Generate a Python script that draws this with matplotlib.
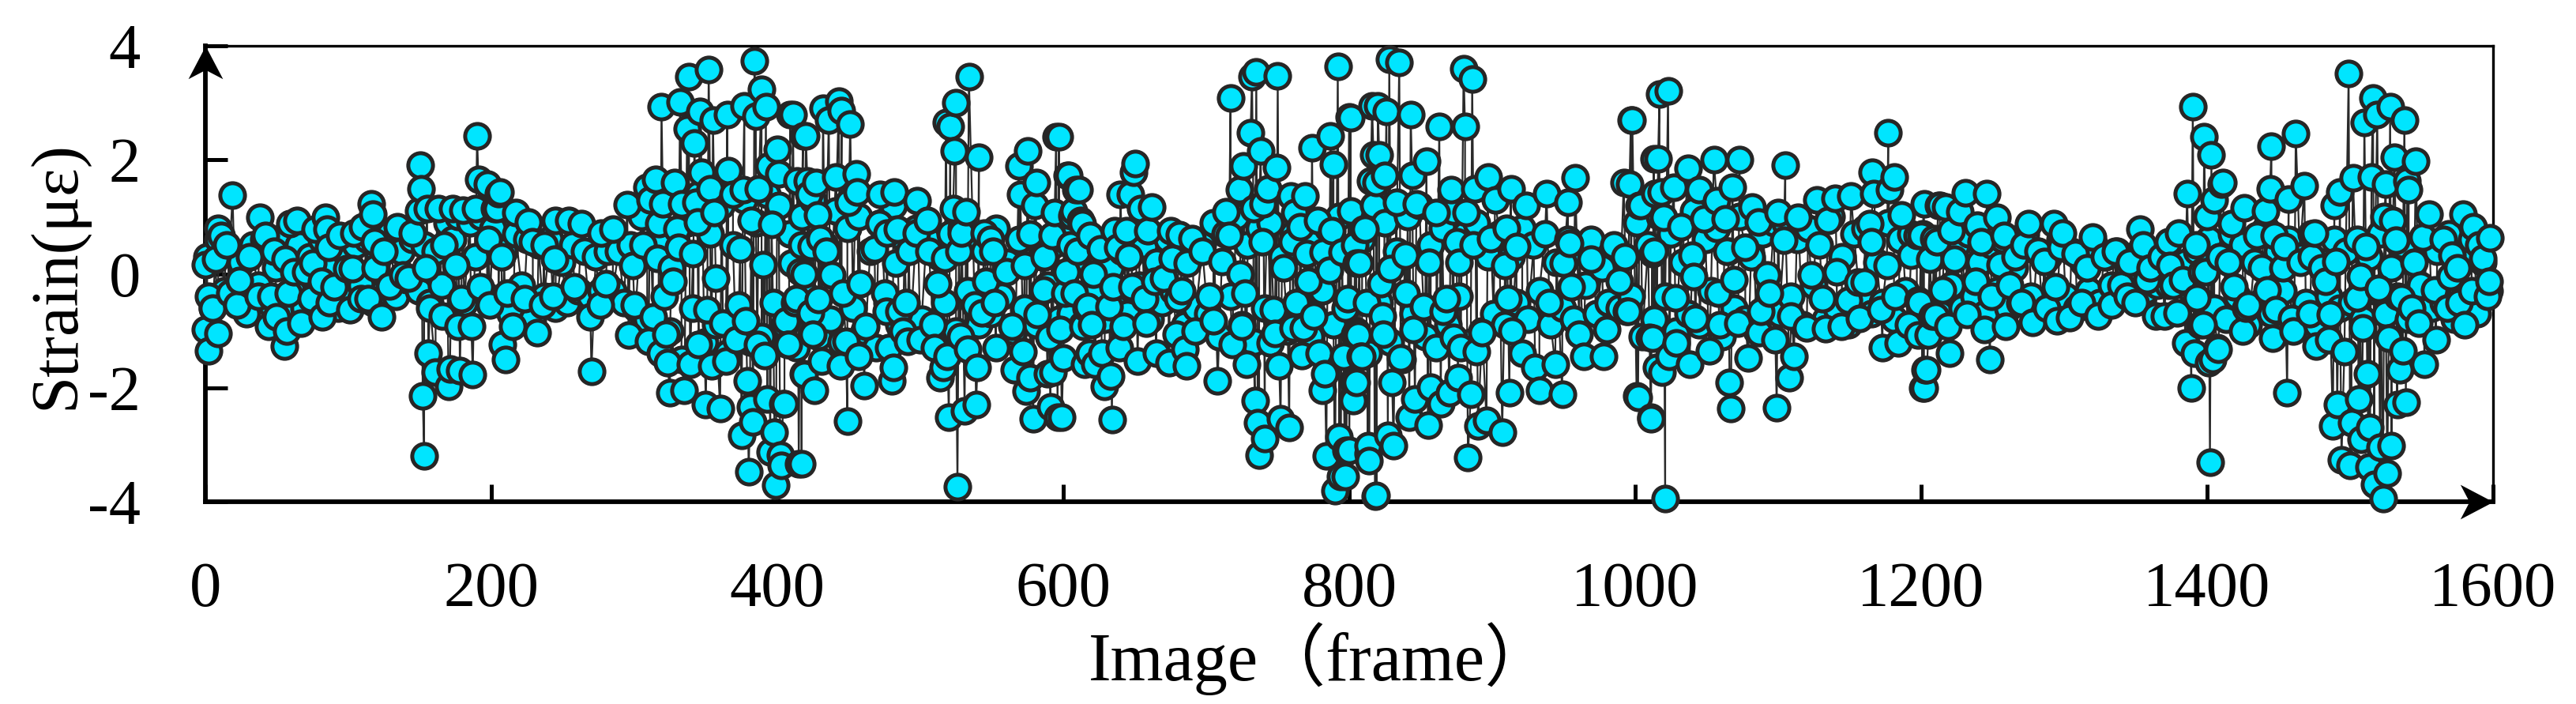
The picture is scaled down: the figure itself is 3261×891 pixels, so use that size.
import matplotlib
matplotlib.use("Agg")
import matplotlib.pyplot as plt
import numpy as np
from matplotlib.path import Path

plt.rcParams["font.family"] = ["Liberation Serif", "Noto Sans CJK SC"]
plt.rcParams["axes.unicode_minus"] = False

# (frame, strain), one list per stretch of the record
part_1 = [(0,0.16),(2,-1.35),(0,-0.98),(9,-1.05),(9,0.8),(11,0.67),(19,1.38),(5,-0.6),(2,-0.4),(7,0.25),
          (15,0.51),(31,0.3),(38,0.99),(42,0.67),(22,-0.55),(17,-0.34),(24,-0.12),(37,-0.39),(44,-0.92),(50,-0.76),
          (55,-1.27),(57,-1.0),(48,0.4),(56,0.25),(46,-0.4),(58,-0.34),(59,0.88),(64,0.94),(62,0.03),(67,-0.87),
          (70,0.03),(75,0.19),(77,0.78),(84,0.99),(85,0.78),(86,0.46),(82,-0.76),(87,-0.5),(74,-0.44),(81,-0.13),
          (90,-0.23),(94,0.67),(99,0.09),(103,0.09),(101,-0.63),(109,-0.44),(104,0.72),(110,0.83),(116,1.23),(117,1.05),
          (118,0.56),(123,-0.76),(119,0.1),(114,-0.44),(129,-0.21),(125,0.4),(134,0.83),(138,-0.02),(142,-0.07),(145,0.72),
          (149,1.1),(150,1.9),(151,1.49),(152,-2.14),(153,-3.19),(154,0.1),(157,-0.6),(156,-1.4),(155,1.15),(161,-1.72),
          (166,-0.74),(167,0.51),(170,-1.98),(171,-1.67),(163,1.15),(173,1.15),(175,0.14),(177,-0.92),(178,-1.7),(179,-0.44),
          (186,-0.92),(187,-1.77),(180,1.12),(189,1.15),(190,2.42),(191,1.65),(192,-0.23),(197,1.57),(205,1.41),(199,-0.55),
          (202,1.15),(198,0.6)]

part_2 = [(206,1.44),(204,1.15),(217,1.07),(226,0.91),(207,0.3),(210,-1.5),(208,-1.24),(215,-0.92),(232,-1.03),(211,-0.34),
          (223,-0.44),(236,-0.55),(243,-0.39),(244,0.25),(245,0.93),(254,0.93),(263,0.88),(258,-0.23),(237,0.51),(229,0.56),
          (269,-0.76),(270,-1.71),(276,-0.55),(280,-0.18),(277,0.72),(285,0.78),(295,1.21),(299,0.14),(306,0.51),(300,-0.55),
          (296,-1.08),(309,1.52),(315,1.65),(311,1.3),(319,2.93),(332,3.02),(338,3.46),(352,3.59),(346,2.85),(337,2.55),
          (342,2.3),(355,2.69),(365,2.79),(377,2.95),(384,3.74),(389,3.24),(385,2.77),(392,2.93),(409,2.79),(418,2.42),
          (400,2.18),(394,1.89),(401,1.76),(414,1.63),(328,1.6),(320,1.23),(333,1.23),(343,1.25),(347,1.78),(366,1.81),
          (353,1.49),(356,1.07),(344,0.91),(317,0.88),(330,0.78),(331,0.46),(341,0.35),(316,0.27),(327,-0.13),(326,0.1),
          (321,-0.39),(313,-0.76),(322,-1.06),(323,-1.56),(310,-1.19),(318,-1.4),(335,-2.04),(325,-2.09),(345,-1.24),(339,-1.59),
          (354,-1.61),(364,-1.53),(357,-0.07),(374,0.43),(390,0.16),(382,0.94),(396,0.86),(387,1.49),(376,1.47),(369,1.4),
          (362,-0.87),(351,-0.63),(373,-0.55),(378,-0.82),(371,-1.16),(386,-1.24),(391,-1.43),(379,-1.88),(350,-2.3),(360,-2.36),
          (381,-2.33),(393,-2.2),(405,-2.28),(383,-2.6),(375,-2.83),(398,-2.78),(395,-3.13),(402,-3.18),(403,-3.36),(415,-3.34),
          (380,-3.47),(399,-3.71),(419,-1.77),(408,-1.24),(406,-0.82),(412,-0.5),(416,0.03),(417,0.51),(410,0.19)]

part_3 = [(411,2.79),(420,2.42),(421,1.63),(427,1.6),(422,1.4),(441,1.7),(455,1.76),(456,1.44),(450,1.25),(432,2.9),
          (443,3.03),(436,2.69),(445,2.87),(451,2.63),(428,1.03),(430,0.62),(424,0.48),(434,0.4),(419,0),(438,-0.02),
          (446,-0.34),(413,-0.44),(429,-0.45),(423,-0.68),(407,-1.24),(425,-1.06),(418,-1.75),(426,-2.04),(404,-2.28),(417,-3.34),
          (431,-1.53),(444,-1.61),(457,-1.45),(461,-1.96),(449,-2.58),(448,-1.19),(462,-0.92),(458,-0.18),(468,0.43),(471,0.88),
          (472,1.39),(482,1.44),(498,1.28),(505,0.94),(497,0.72),(484,0.78),(477,0.72),(492,0.4),(483,0.19),(475,-0.34),
          (490,-0.5),(476,-0.66),(485,-0.66),(488,-1.0),(491,-1.19),(478,-1.29),(481,-1.64),(480,-1.88),(509,-0.9),(500,-1.16),
          (510,-1.29),(519,-1.45),(516,-1.64),(514,-1.83),(520,-2.51),(526,-3.74),(539,-2.3),(531,-2.41),(540,-1.64),(533,-1.32),
          (528,-1.1),(512,-0.18),(517,0.27),(506,0.4),(527,0.4),(529,0.72),(532,1.09),(523,1.15),(524,2.16),(521,2.58),
          (518,2.66),(525,3.0),(534,3.46),(541,2.05),(545,0.72),(551,0.4),(549,0.6),(560,0.03),(546,-0.13),(538,-0.55),
          (543,-0.68),(552,-0.5),(564,-0.92),(553,-1.29),(572,-1.37),(566,-1.69),(577,-1.83),(574,-2.06),(579,-2.54),(599,-2.51),
          (591,-2.33),(593,-1.72),(589,-1.76),(590,-1.11),(582,-0.71),(586,-0.29),(573,0.14),(587,0.3),(592,0.67),(581,1.6),
          (575,2.16),(569,1.89),(570,1.39),(580,1.2),(595,2.4),(603,1.73),(609,1.47),(594,1.07),(606,1.02),(613,0.88),
          (610,0.4),(608,-0.34),(616,-0.6),(614,-0.92),(618,-1.4),(615,-1.59)]

part_4 = [(597,2.4),(604,1.73),(611,1.47),(607,1.1),(612,0.94),(619,0.67),(626,0.43),(605,0.5),(602,0.03),(601,-0.34),
          (617,-0.58),(620,-0.9),(598,-0.98),(632,-0.58),(635,-0.23),(621,0.0),(600,-1.48),(596,-2.51),(622,-1.59),(627,-1.4),
          (629,-1.98),(633,-1.8),(634,-2.56),(639,-1.29),(642,-0.92),(658,-0.87),(652,-1.53),(665,-1.4),(674,-1.56),(686,-1.61),
          (685,-1.32),(679,-1.06),(692,-1.0),(705,-0.82),(708,-1.88),(718,-1.24),(725,-0.92),(728,-1.59),(727,-0.34),(724,0),
          (716,0.67),(711,0.22),(702,-0.39),(680,-0.44),(683,-0.3),(670,-0.08),(664,-0.13),(657,-0.44),(648,-0.23),(646,0.3),
          (638,0.46),(636,0.75),(644,0.75),(659,0.75),(675,0.75),(681,0.69),(690,0.62),(697,0.4),(687,0.19),(676,0.27),
          (650,1.94),(649,1.78),(647,1.39),(662,1.17),(640,1.39),(654,1.14),(717,3.08),(732,3.46),(735,3.54),(750,3.48),
          (731,2.47),(738,2.16),(726,1.89),(749,1.87),(723,1.47),(743,1.49),(714,1.09),(733,1.15),(740,1.23),(739,0.56),
          (759,1.36),(769,1.36),(762,1.07),(766,0.83),(778,0.94),(788,0.75),(754,0.11),(760,0.56),(770,0.35),(771,-0.13),
          (786,0.06),(782,0.38),(795,0.38),(805,0.19),(810,0.78),(804,0.5),(774,2.21),(787,2.42),(789,1.92),(800,2.75),
          (792,3.64),(816,2.95),(817,2.08),(815,1.63),(747,-0.63),(763,-0.5),(775,-0.74),(748,-1.05),(745,-1.21),(761,-0.95),
          (768,-0.95),(767,-1.43),(751,-1.61),(734,-2.22),(736,-2.62),(758,-2.7),(752,-2.54),(741,-2.89),(737,-3.18),(783,-1.75),
          (781,-2.04),(779,-1.4),(803,-1.88),(802,-2.2),(808,-1.45),(796,-1.45),(806,-1.08),(812,-0.5),(799,-0.44),(793,-2.86),
          (784,-3.2),(798,-3.1),(813,-3.15),(794,-3.55),(790,-3.81),(818,-3.9)]

part_5 = [(828,3.77),(835,3.71),(880,3.6),(886,3.42),(801,2.74),(820,2.95),(826,2.85),(843,2.8),(863,2.59),(881,2.59),
          (821,2.08),(825,1.73),(819,1.6),(854,1.97),(844,1.73),(833,1.25),(847,1.23),(871,1.47),(888,1.49),(897,1.7),
          (913,1.49),(882,1.07),(861,1.07),(811,0.78),(910,0.8),(902,1.3),(924,1.2),(938,1.41),(958,1.68),(953,1.25),
          (875,0.56),(887,0.51),(917,0.48),(899,0.62),(954,0.54),(950,0.19),(909,0.14),(839,0.33),(829,0.09),(807,0.19),
          (856,0.2),(877,0.2),(822,-0.18),(840,-0.34),(852,-0.58),(868,-0.44),(866,-0.66),(911,-0.44),(940,-0.5),(955,-0.23),
          (994,-0.66),(989,-0.13),(1012,0.35),(969,0.25),(1003,1.2),(992,1.6),(997,2.69),(1013,2.02),(1014,1.41),(823,-0.74),
          (824,-1.06),(845,-0.98),(804,-1.06),(893,-1.03),(914,-1.0),(873,-1.11),(878,-1.29),(889,-1.37),(809,-1.45),(836,-1.48),
          (961,-1.06),(980,-0.98),(964,-1.45),(978,-1.45),(1010,-1.11),(921,-1.4),(930,-1.64),(944,-1.59),(805,-1.9),(803,-2.22),
          (830,-1.9),(876,-1.83),(885,-2.12),(846,-2.2),(864,-2.28),(857,-1.99),(870,-2.09),(912,-2.09),(933,-2.04),(949,-2.12),
          (1011,-2.51),(1001,-2.14),(1015,-1.64),(842,-2.51),(855,-2.65),(890,-2.67),(896,-2.57),(907,-2.78),(883,-3.23),(831,-3.02),
          (827,-2.84),(813,-3.02),(814,-3.28),(800,-3.1),(819,-3.89),(797,-3.55)]

part_6 = [(1017,3.16),(1023,3.21),(998,2.69),(1016,2.02),(1037,1.85),(1055,2.01),(1073,2.0),(1105,1.9),(1177,2.48),(1166,1.78),
          (1181,1.7),(996,1.57),(1018,1.44),(1027,1.52),(1004,1.2),(1045,1.47),(1068,1.52),(1057,1.28),(1082,1.17),(1127,1.3),
          (1140,1.33),(1151,1.36),(1167,1.41),(1178,1.47),(1186,1.03),(1202,1.23),(1212,1.2),(1100,1.07),(1114,0.99),(1135,0.94),
          (1063,0.96),(1032,0.83),(1020,0.99),(1048,0.96),(1164,0.88),(1165,0.56),(1086,0.91),(1104,0.59),(1197,0.67),(1209,0.62),
          (1013,0.4),(1077,0.46),(1064,0.4),(1040,0.33),(1193,0.33),(1176,0.14),(1156,-0.15),(1092,-0.02),(1041,-0.05),(1069,-0.1),
          (1141,0.03),(1123,-0.02),(1028,-0.42),(1094,-0.34),(1058,-0.34),(995,-0.66),(1198,-0.47),(1149,-0.47),(1131,-0.44),(1182,-0.39),
          (1172,-0.63),(1160,-0.15),(1088,-0.66),(1109,-0.74),(1157,-0.79),(1210,-0.74),(1059,-0.9),(1042,-0.79),(1072,-0.87),(1144,-0.92),
          (1133,-0.97),(1120,-0.95),(1098,-1.16),(1191,-0.9),(1205,-1.08),(1087,-1.03),(1012,-1.13),(1029,-1.21),(1184,-1.21),(1173,-1.29),
          (1052,-1.35),(1038,-1.59),(1024,-1.45),(1079,-1.48),(1111,-1.45),(1019,-1.72),(1066,-1.9),(1108,-1.83),(1203,-1.69),(1201,-2.01),
          (1002,-2.17),(1011,-2.54),(1067,-2.36),(1099,-2.35),(1021,-3.95)]

part_7 = [(1231,1.42),(1246,1.41),(1217,1.17),(1213,1.2),(1227,1.09),(1253,0.99),(1275,0.88),(1293,0.88),(1299,0.72),(1320,0.64),
          (1221,0.75),(1353,0.78),(1355,0.5),(1239,0.85),(1258,0.67),(1272,0.51),(1298,0.46),(1200,0.67),(1211,0.56),(1242,0.56),
          (1206,0.25),(1286,0.22),(1223,0.25),(1255,0.16),(1294,-0.23),(1262,-0.2),(1215,-0.29),(1238,-0.13),(1199,-0.5),(1249,-0.39),
          (1232,-0.71),(1208,-0.74),(1219,-0.92),(1244,-0.98),(1259,-0.92),(1198,-1.08),(1278,-0.85),(1295,-0.82),(1304,-0.77),(1324,-0.74),
          (1333,-0.55),(1344,-0.39),(1364,-0.74),(1370,-0.74),(1379,-0.68),(1220,-1.4),(1248,-1.51),(1204,-1.69),(1202,-2.01),(1386,1.41),
          (1398,2.4),(1390,2.93),(1403,2.08),(1410,1.57),(1400,1.0),(1392,0.51),(1380,0.72),(1373,0.56),(1399,0.03),(1383,-0.1),
          (1374,0.14),(1393,-0.42),(1395,-0.9),(1385,-1.21),(1391,-1.4),(1401,-1.56),(1407,-1.29),(1389,-2.01),(1402,-3.31),(1266,0.3),
          (1282,0.4),(1308,0.35),(1316,0.1),(1328,0.3),(1336,0.4),(1346,0.2),(1360,0.1),(1368,0.3),(1376,-0.2),(1270,-0.5),
          (1288,-0.6),(1312,-0.5),(1340,-0.2),(1350,-0.5),(1358,-0.1)]

part_8 = [(1411,1.6),(1405,1.3),(1426,1.16),(1441,1.1),(1445,2.24),(1462,2.46),(1444,1.49),(1468,1.55),(1457,1.31),(1417,0.88),
          (1475,0.72),(1435,0.67),(1409,0.3),(1454,0.48),(1447,0.67),(1453,0.1),(1473,0.3),(1396,0.03),(1442,-0.29),(1419,-0.23),
          (1429,-0.55),(1490,0.22),(1483,-0.13),(1489,1.2),(1493,1.44),(1502,1.68),(1499,3.51),(1516,3.08),(1510,2.66),(1519,2.79),
          (1528,2.93),(1538,2.69),(1531,2.05),(1546,1.98),(1515,1.7),(1525,1.58),(1540,1.63),(1541,1.47),(1524,1.0),(1530,0.93),
          (1532,0.59),(1555,1.04),(1551,0.64),(1511,0.48),(1507,-0.05),(1505,-0.42),(1520,-0.26),(1536,-0.42),(1579,1.04),(1586,0.83),
          (1598,0.63),(1593,0.27),(1571,0.33),(1570,-0.05),(1559,-0.28),(1597,-0.13),(1596,-0.39),(1580,-0.9),(1548,-0.87),(1560,-1.16),
          (1552,-1.59),(1537,-1.35),(1535,-1.69),(1446,-1.13),(1460,-1.0),(1456,-2.08),(1425,-1.0),(1408,-1.32),(1404,-1.5),(1397,-0.9),
          (1427,-0.6),(1448,-0.63),(1459,-0.79),(1472,-0.7),(1486,-0.71),(1509,-0.95),(1485,-1.16),(1476,-1.27),(1496,-1.37),(1527,-1.13),
          (1512,-1.75),(1539,-2.25),(1533,-2.3),(1506,-2.2),(1491,-2.3),(1488,-2.67),(1501,-2.62),(1514,-2.7),(1508,-2.9),(1529,-3.02),
          (1521,-3.04),(1494,-3.26),(1500,-3.36),(1513,-3.39),(1526,-3.5),(1517,-3.7),(1523,-3.95),(1565,0.6),(1575,0.1),(1585,-0.3),
          (1590,0.5),(1568,-0.6),(1576,-0.5),(1543,-0.6),(1480,0.1),(1465,0.2),(1438,0.1),(1415,0.2)]

# points buried in the blob, estimated, one value every 4 frames
buried_0 = [0.3,-0.6,0.6,-0.3,0.4,-0.5,0.2,-0.7,0.5,-0.2,0.6,-0.5,0.1,-0.6,0.7,-0.3,0.5,-0.6,0.3,-0.4,0.6,-0.5,0.2,-0.6,0.4]
buried_1 = [-0.4,0.5,-0.2,0.6,-0.5,0.3,-0.3,0.7,-0.4,0.4,-0.1,0.6,-0.3,0.5,-0.5,0.4,-0.2,0.9,0.6,1.0,-0.5,0.9,0.3,1.0,-0.4]
buried_2 = [0.8,-0.5,0.4,-0.7,0.7,-0.2,0.6,-0.8,0.5,-0.4,0.6,-0.6,0.2,-0.5,0.5,-0.3,0.4,-0.4,0.3,-0.3,0.4,-0.3,0.4,-0.5,0.5]
buried_3 = [-0.6,1.0,-0.8,1.3,-1.3,0.6,-1.0,1.3,-1.5,0.9,-0.6,1.4,-1.2,0.7,-0.9,1.2,-1.4,0.5,-0.7,1.3,-1.2,0.9,-1.1,1.4,-0.5]
buried_4 = [1.2,-0.9,0.7,-1.3,1.0,-0.4,1.3,-1.1,0.5,-0.8,1.1,-1.2,0.8,-0.6,1.0,-1.0,0.4,-1.3,0.9,-0.5,1.2,-0.9,0.6,-1.1,0.8]
buried_5 = [-0.8,0.6,-1.0,0.3,-0.5,0.7,-1.0,0.8,-0.3,0.5,-0.9,0.4,-0.7,0.8,-0.4,0.2,-1.0,0.6,-0.6,0.7,-0.9,0.3,-0.2,0.5,-0.8]
buried_6 = [0.6,-0.7,0.2,-0.9,0.7,-0.4,0.5,-0.8,0.1,-0.6,0.4,-0.7,0.6,-0.2,0.5,-0.8,0.2,-0.5,0.6,-0.3,0.4,-0.9,0.3,-0.6,0.5]
buried_7 = [-0.7,0.9,-1.1,0.7,-0.4,1.0,-0.9,0.5,-1.2,0.8,-0.6,0.9,-0.8,0.3,-1.0,0.7,-0.5,1.0,-1.1,0.6,-0.3,0.8,-0.9,1.0,-0.6]
buried_8 = [1.1,-1.0,0.6,-1.4,1.2,-0.5,0.9,-1.2,0.4,-1.5,1.0,-0.7,1.2,-1.1,0.5,-1.3,0.8,-0.9,1.1,-0.4,0.7,-1.2,0.9,-1.0,0.3]
buried_9 = [-0.7,0.7,-0.9,0.3,-0.5,0.8,-0.8,0.5,-0.3,0.7,-0.9,0.2,-0.6,0.6,-0.8,0.4,-0.2,0.6,-0.7,0.1,-0.5,0.5,-0.6,0.3,-0.4]
buried_10 = [0.9,-1.1,0.5,-0.8,1.0,-0.4,0.7,-1.0,0.2,-0.7,1.1,-0.9,0.6,-0.3,0.8,-1.1,0.4,-0.6,1.0,-0.8,0.3,-1.0,0.7,-0.5,0.9]
buried_11 = [-0.7,0.9,-0.4,0.6,-0.9,0.8,-0.2,0.5,-0.8,1.0,-0.6,0.3,-0.9,0.7,-0.4,0.8,-0.7,0.2,-0.5,0.9,-0.8,0.6,-0.3,0.7,-0.9]
buried_12 = [0.7,-0.6,0.3,-0.7,0.6,-0.2,0.5,-0.6,0.7,-0.4,0.2,-0.7,0.5,-0.3,0.6,-0.6,0.1,-0.5,0.7,-0.4,0.4,-0.7,0.3,-0.5,0.6]
buried_13 = [-0.4,0.4,-0.6,0.2,-0.3,0.5,-0.5,0.3,-0.2,0.4,-0.4,0.1,-0.3,0.4,-0.3,0.2,-0.2,0.3,-0.2,0.1,-0.1,0.2,-0.3,0.4,-0.5]
buried_14 = [0.6,-0.6,0.3,-0.8,0.7,-0.4,0.5,-0.9,0.2,-0.5,0.8,-0.7,0.4,-0.3,0.6,-0.8,0.3,-0.5,0.7,-0.9,0.2,-0.4,0.6,-0.6,0.4]
buried_15 = [-0.5,0.6,-0.8,0.3,-0.3,0.7,-0.7,0.1,-0.4,0.5,-0.8,0.2,-0.2,0.6,-0.6,0.4,-0.5,0.7,-0.8,0.3,-0.4,0.6,-0.7,0.2,-0.3]

x_ticks = [0, 200, 400, 600, 800, 1000, 1200, 1400, 1600]
y_ticks = [-4, -2, 0, 2, 4]
y_tick_labels = ["-4", "-2", "0", "2", "4"]

points = sorted(part_1 + part_2 + part_3 + part_4 + part_5 + part_6 + part_7 + part_8, key=lambda p: p[0])
frames = np.array([p[0] for p in points])
strain = np.array([p[1] for p in points])

buried = (buried_0 + buried_1 + buried_2 + buried_3 + buried_4 + buried_5 + buried_6 + buried_7
          + buried_8 + buried_9 + buried_10 + buried_11 + buried_12 + buried_13 + buried_14 + buried_15)
buried_frames = np.arange(len(buried)) * 4 + 1
buried_strain = np.array(buried)

all_frames = np.concatenate([frames, buried_frames])
all_strain = np.concatenate([strain, buried_strain])
order = np.argsort(all_frames, kind="stable")

fig = plt.figure(figsize=(32.62, 8.91), dpi=100)
ax = fig.add_axes([260 / 3262, 1 - 635 / 891, (3156 - 260) / 3262, (635 - 58) / 891])

marker_style = dict(linestyle="none", marker="o", markersize=22.5, markerfacecolor="#00e5ff",
                    markeredgecolor="#262626", markeredgewidth=3.6, clip_on=False)

# connecting line first, then the symbols over it, visible ones last
ax.plot(all_frames[order], all_strain[order], color="#2a2a2a", linewidth=1.6, clip_on=False, zorder=3)
ax.plot(buried_frames, buried_strain, zorder=3.1, **marker_style)
ax.plot(frames, strain, zorder=3.2, **marker_style)

ax.set_xlim(0, 1600)
ax.set_ylim(-4, 4)
ax.set_xticks(x_ticks)
ax.set_yticks(y_ticks)
ax.set_yticklabels(y_tick_labels)
ax.tick_params(axis="x", direction="in", length=16, width=3.6, labelsize=58, pad=55)
ax.tick_params(axis="y", direction="in", length=20, width=3.6, labelsize=58, pad=59)

ax.spines["left"].set_linewidth(4.2)
ax.spines["bottom"].set_linewidth(4.2)
ax.spines["top"].set_linewidth(2.4)
ax.spines["right"].set_linewidth(2.4)

# barbed arrow heads on the two axes
up_head = Path([(0, 0), (-1.05, -2), (0, -1.45), (1.05, -2), (0, 0)], closed=True)
right_head = Path([(0, 0), (-2, 1.05), (-1.45, 0), (-2, -1.05), (0, 0)], closed=True)
ax.plot([0], [4], marker=up_head, markersize=60, color="black", markeredgewidth=0, clip_on=False, zorder=2.6)
ax.plot([1600], [-4], marker=right_head, markersize=60, color="black", markeredgewidth=0, clip_on=False, zorder=2.6)

fig.text(1672 / 3262, 1 - 834 / 891, "Image（frame）", fontsize=62, ha="center", va="center")
fig.text(73 / 3262, 1 - 348 / 891, "Strain(με)", fontsize=61, rotation=90, ha="center", va="center")

fig.savefig("out.png", dpi=100)
